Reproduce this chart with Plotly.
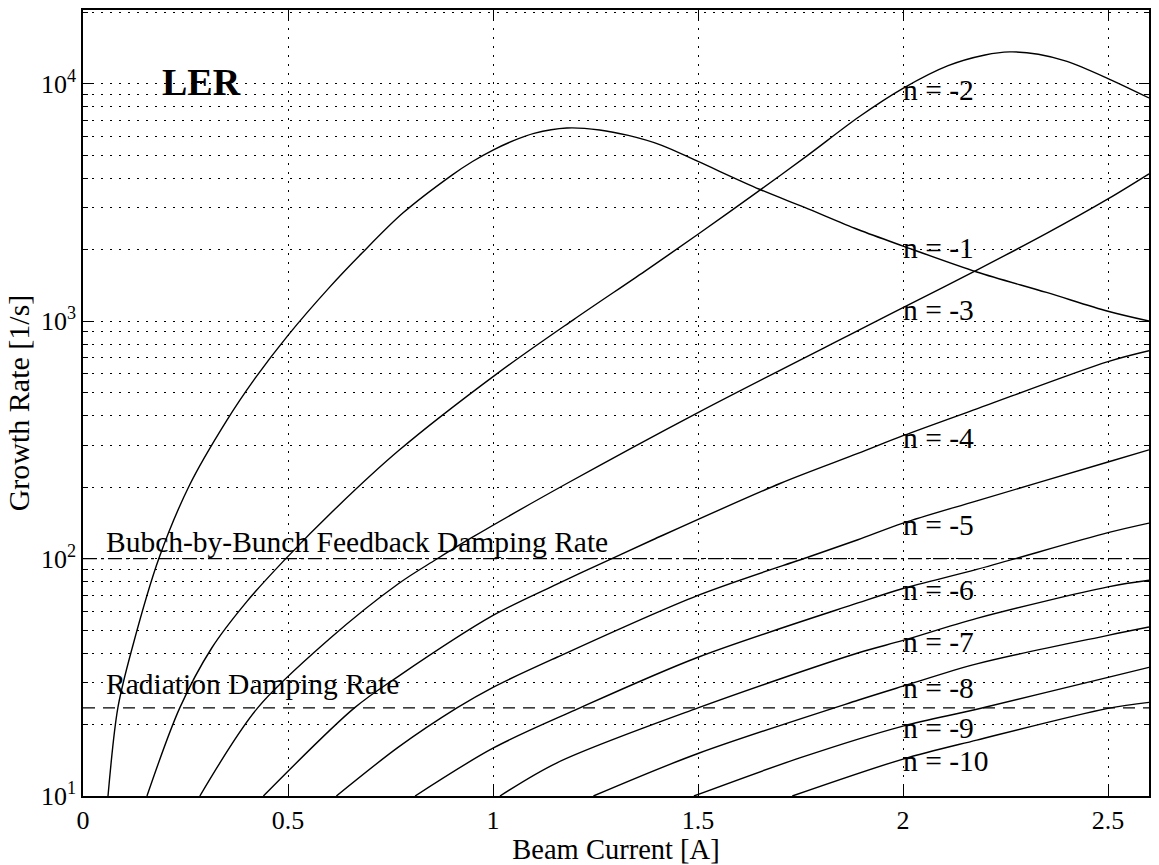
import numpy as np
import plotly.graph_objects as go

# Coupled-bunch mode growth rates vs. beam current (LER)
# beam current [A] / growth rate [1/s] for each mode n
I_N1 = [0.061, 0.085, 0.12, 0.185, 0.26, 0.35, 0.42, 0.5, 0.6, 0.68, 0.78, 0.9,
        0.95, 1.0, 1.05, 1.1, 1.18, 1.26, 1.33, 1.41, 1.5, 1.65, 1.76, 1.89,
        2.0, 2.18, 2.35, 2.5, 2.6]
R_N1 = [10, 23.5, 42, 100, 204, 380, 575, 871, 1380, 1930, 2850, 4120,
        4700, 5250, 5750, 6170, 6500, 6380, 6050, 5510, 4700, 3590, 3010, 2430,
        2070, 1610, 1320, 1100, 1000]

I_N2 = [0.156, 0.236, 0.314, 0.4, 0.49, 0.62, 0.77, 1.01, 1.195, 1.37, 1.5,
        1.646, 1.765, 1.893, 2.0, 2.11, 2.2, 2.26, 2.33, 2.4, 2.5, 2.6]
R_N2 = [10, 23.5, 42, 66, 98, 165, 285, 601, 1010, 1620, 2320,
        3510, 4950, 7250, 9550, 11900, 13200, 13600, 13300, 12400, 10500, 8700]

I_N3 = [0.285, 0.426, 0.6, 0.77, 0.86, 0.95, 1.18, 1.5, 1.89, 2.0, 2.18, 2.35, 2.5, 2.6]
R_N3 = [10, 23.5, 45.7, 78.5, 98.8, 123, 207, 412, 912, 1140, 1640, 2340, 3270, 4170]

I_N4 = [0.44, 0.662, 0.77, 1.0, 1.156, 1.29, 1.39, 1.7, 1.89, 2.0, 2.18, 2.5, 2.6]
R_N4 = [10, 23.5, 32, 57.6, 78, 100, 120, 207, 277, 329, 427, 675, 750]

I_N5 = [0.618, 0.77, 0.912, 1.0, 1.156, 1.5, 1.78, 1.89, 2.0, 2.18, 2.5, 2.6]
R_N5 = [10, 16.1, 23.5, 28.7, 38.4, 70, 103, 120, 141, 175, 255, 287]

I_N6 = [0.81, 1.0, 1.2, 1.5, 1.89, 2.0, 2.18, 2.5, 2.6]
R_N6 = [10, 15.9, 23.0, 38.4, 65, 74.8, 90, 128.5, 141]

I_N7 = [1.017, 1.156, 1.5, 1.89, 2.0, 2.18, 2.5, 2.6]
R_N7 = [10, 13.8, 23.5, 40, 45.2, 56, 76, 81]

I_N8 = [1.245, 1.5, 1.89, 2.0, 2.18, 2.5, 2.6]
R_N8 = [10, 15.1, 25.3, 29, 36, 47.5, 51.5]

I_N9 = [1.49, 1.75, 2.0, 2.18, 2.5, 2.6]
R_N9 = [10, 14.5, 19.7, 23.2, 31.6, 34.8]

I_N10 = [1.73, 2.0, 2.18, 2.5, 2.6]
R_N10 = [10, 14.3, 17.2, 23.4, 24.8]

MODES = [-1, -2, -3, -4, -5, -6, -7, -8, -9, -10]
CURRENTS = [I_N1, I_N2, I_N3, I_N4, I_N5, I_N6, I_N7, I_N8, I_N9, I_N10]
RATES = [R_N1, R_N2, R_N3, R_N4, R_N5, R_N6, R_N7, R_N8, R_N9, R_N10]

FEEDBACK_RATE = 100.0     # bunch-by-bunch feedback damping rate [1/s]
RADIATION_RATE = 23.5     # radiation damping rate [1/s]
LABEL_CURRENT = 2.0       # where the mode labels sit

X_RANGE = [0, 2.6]
X_TICKS = [0, 0.5, 1, 1.5, 2, 2.5]
X_TICK_TEXT = ["0", "0.5", "1", "1.5", "2", "2.5"]
Y_TICKS = [10, 100, 1000, 10000]
Y_TICK_TEXT = ["10<sup>1</sup>", "10<sup>2</sup>", "10<sup>3</sup>", "10<sup>4</sup>"]
Y_MINOR = [d * 10 ** e for e in range(1, 5) for d in range(2, 10)]

SERIF = "Liberation Serif, Times New Roman, serif"
INK = "black"
TEXT_SIZE = 29.5

fig = go.Figure()

for n, cur, rate in zip(MODES, CURRENTS, RATES):
    fig.add_trace(go.Scatter(
        x=cur, y=rate, mode="lines", name=f"n = {n}",
        line=dict(color=INK, width=1.4, shape="spline", smoothing=0.9),
        showlegend=False, hoverinfo="x+y+name",
    ))

# damping-rate reference levels
fig.add_trace(go.Scatter(
    x=X_RANGE, y=[FEEDBACK_RATE, FEEDBACK_RATE], mode="lines",
    line=dict(color=INK, width=1.3, dash="14px,4px,3px,4px"),
    showlegend=False, hoverinfo="skip",
))
fig.add_trace(go.Scatter(
    x=X_RANGE, y=[RADIATION_RATE, RADIATION_RATE], mode="lines",
    line=dict(color=INK, width=1.3, dash="12px,8px"),
    showlegend=False, hoverinfo="skip",
))

annotations = []
for n, cur, rate in zip(MODES, CURRENTS, RATES):
    y_lab = float(np.interp(LABEL_CURRENT, cur, np.log10(rate)))
    annotations.append(dict(
        x=LABEL_CURRENT, y=y_lab, xref="x", yref="y",
        text=f"n = {n}", showarrow=False, xanchor="left", yanchor="middle",
        yshift=-2, xshift=-2, font=dict(family=SERIF, size=TEXT_SIZE, color=INK),
    ))

annotations += [
    dict(x=0.05, y=np.log10(FEEDBACK_RATE), xref="x", yref="y",
         text="Bubch-by-Bunch Feedback Damping Rate", showarrow=False,
         xanchor="left", yanchor="bottom", yshift=-1,
         font=dict(family=SERIF, size=TEXT_SIZE, color=INK)),
    dict(x=0.05, y=np.log10(RADIATION_RATE), xref="x", yref="y",
         text="Radiation Damping Rate", showarrow=False,
         xanchor="left", yanchor="bottom", yshift=6,
         font=dict(family=SERIF, size=TEXT_SIZE, color=INK)),
    dict(x=0.29, y=4.0, xref="x", yref="y",
         text="<b>LER</b>", showarrow=False, xanchor="center", yanchor="middle",
         yshift=2, font=dict(family=SERIF, size=38, color=INK)),
]

dotted = "1.5px,7.5px"

fig.update_layout(
    width=1159, height=865,
    margin=dict(l=83, r=9, t=8, b=69),
    paper_bgcolor="white", plot_bgcolor="white",
    annotations=annotations,
    font=dict(family=SERIF, color=INK),
)

fig.update_xaxes(
    range=X_RANGE, tickmode="array", tickvals=X_TICKS, ticktext=X_TICK_TEXT,
    ticks="inside", ticklen=10, tickwidth=1.3, tickcolor=INK,
    showline=True, linecolor=INK, linewidth=1.6, mirror="ticks",
    showgrid=True, gridcolor=INK, gridwidth=1, griddash=dotted,
    zeroline=False,
    tickfont=dict(family=SERIF, size=26, color=INK),
    title=dict(text="Beam Current [A]", font=dict(family=SERIF, size=28.5, color=INK),
               standoff=2),
)

fig.update_yaxes(
    type="log", range=[1, 4.31],
    tickmode="array", tickvals=Y_TICKS, ticktext=Y_TICK_TEXT,
    ticks="inside", ticklen=10, tickwidth=1.3, tickcolor=INK,
    showline=True, linecolor=INK, linewidth=1.6, mirror="ticks",
    showgrid=True, gridcolor=INK, gridwidth=1, griddash=dotted,
    zeroline=False,
    tickfont=dict(family=SERIF, size=26, color=INK),
    minor=dict(tickmode="array", tickvals=Y_MINOR, ticks="inside", ticklen=5,
               tickwidth=1.2, tickcolor=INK, showgrid=True, gridcolor=INK,
               gridwidth=1, griddash=dotted),
    title=dict(text="Growth Rate [1/s]", font=dict(family=SERIF, size=30, color=INK),
               standoff=2),
)

fig.write_html("out.html")
